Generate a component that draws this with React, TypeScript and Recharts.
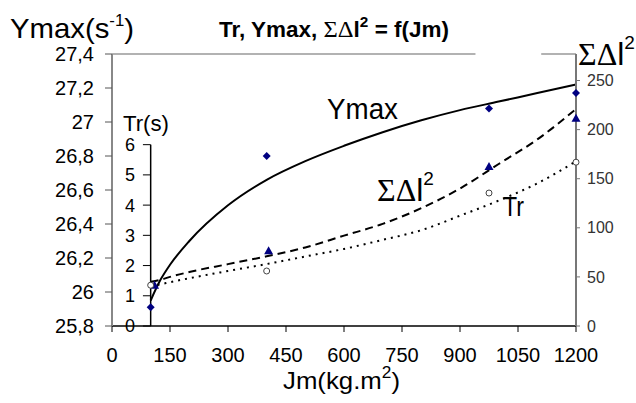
import React from 'react';
import { ComposedChart, Line, Scatter, XAxis, YAxis, ReferenceLine } from 'recharts';

const jmTicks = [0, 150, 300, 450, 600, 750, 900, 1050, 1200];
const ymaxTicks = [25.8, 26, 26.2, 26.4, 26.6, 26.8, 27, 27.2, 27.4];
const dlTicks = [0, 50, 100, 150, 200, 250];
const trTicks = [0, 1, 2, 3, 4, 5, 6];

// fitted curves
const curveJm = [100, 125, 150, 200, 300, 400, 500, 600, 700, 800, 900, 1000, 1100, 1200];
const ymaxCurve = [25.95, 26.07, 26.16, 26.3, 26.51, 26.66, 26.77, 26.86, 26.94, 27.01, 27.07, 27.12, 27.17, 27.22];
const dlCurve = [45, 47, 50, 55, 63, 71, 80, 92, 104, 120, 140, 165, 190, 221];
const trCurve = [1.32, 1.38, 1.45, 1.58, 1.82, 2.05, 2.3, 2.55, 2.85, 3.17, 3.65, 4.15, 4.72, 5.45];

// measured points
const pointJm = [100, 400, 975, 1200];
const ymaxPoints = [25.91, 26.8, 27.08, 27.17];
const dlPointJm = [110, 405, 975, 1200];
const dlPoints = [41, 76, 162, 211];
const trPoints = [1.35, 1.82, 4.4, 5.42];

const ymaxLine = curveJm.map((x, i) => ({ x, y: ymaxCurve[i] }));
const dlLine = curveJm.map((x, i) => ({ x, y: dlCurve[i] }));
const trLine = curveJm.map((x, i) => ({ x, y: trCurve[i] }));
const ymaxDots = pointJm.map((x, i) => ({ x, y: ymaxPoints[i] }));
const dlDots = dlPointJm.map((x, i) => ({ x, y: dlPoints[i] }));
const trDots = pointJm.map((x, i) => ({ x, y: trPoints[i] }));

const font = '"Liberation Sans", Arial, sans-serif';
const serif = '"Liberation Serif", "Times New Roman", serif';

const Diamond = (p: any) => {
  const { cx, cy } = p;
  return <path d={`M${cx},${cy - 4}L${cx + 4},${cy}L${cx},${cy + 4}L${cx - 4},${cy}Z`} fill="#000080" />;
};
const Triangle = (p: any) => {
  const { cx, cy } = p;
  return <path d={`M${cx},${cy - 5}L${cx + 4.5},${cy + 3}L${cx - 4.5},${cy + 3}Z`} fill="#000080" />;
};
const Ring = (p: any) => <circle cx={p.cx} cy={p.cy} r={3} fill="#fff" stroke="#444" strokeWidth={1} />;

const comma = (v: number) => String(v).replace('.', ',');

export default function App() {
  return (
    <div style={{ position: 'absolute', left: 0, top: 0, width: 636, height: 403, background: '#fff', fontFamily: font }}>
      <ComposedChart width={636} height={403} margin={{ top: 54, right: 0, bottom: 47, left: 0 }}>
        <XAxis
          dataKey="x"
          type="number"
          domain={[0, 1200]}
          ticks={jmTicks}
          height={30}
          tickSize={6}
          tickMargin={16}
          axisLine={{ stroke: '#000', strokeWidth: 1.5 }}
          tickLine={{ stroke: '#000' }}
          tick={{ fontSize: 20, fill: '#000' }}
        />
        <YAxis
          yAxisId="ymax"
          dataKey="y"
          type="number"
          domain={[25.8, 27.4]}
          ticks={ymaxTicks}
          width={112}
          tickSize={7}
          tickMargin={11}
          tickFormatter={comma}
          axisLine={{ stroke: '#888', strokeWidth: 2 }}
          tickLine={{ stroke: '#555' }}
          tick={{ fontSize: 20, fill: '#000' }}
        />
        <YAxis
          yAxisId="dl"
          dataKey="y"
          orientation="right"
          type="number"
          domain={[0, 277]}
          ticks={dlTicks}
          width={60}
          tickSize={4}
          tickMargin={7}
          axisLine={{ stroke: '#777', strokeWidth: 2 }}
          tickLine={{ stroke: '#777' }}
          tick={{ fontSize: 16, fill: '#333' }}
        />
        <YAxis yAxisId="tr" dataKey="y" type="number" orientation="right" domain={[0, 9]} width={0} hide />

        <ReferenceLine yAxisId="ymax" segment={[{ x: 0, y: 27.4 }, { x: 940, y: 27.4 }]} stroke="#999" strokeWidth={1.5} />
        <ReferenceLine yAxisId="ymax" segment={[{ x: 1110, y: 27.4 }, { x: 1200, y: 27.4 }]} stroke="#999" strokeWidth={1.5} />

        <ReferenceLine yAxisId="tr" segment={[{ x: 100, y: 0 }, { x: 100, y: 6 }]} stroke="#000" strokeWidth={1.5} />
        {trTicks.map((t) => (
          <ReferenceLine
            key={t}
            yAxisId="tr"
            segment={[{ x: 80, y: t }, { x: 100, y: t }]}
            stroke="#000"
            label={{ value: String(t), position: 'left', offset: 8, fontSize: 18, fill: '#000' }}
          />
        ))}

        <Line data={ymaxLine} yAxisId="ymax" dataKey="y" type="monotone" stroke="#000" strokeWidth={2} dot={false} isAnimationActive={false} />
        <Line data={dlLine} yAxisId="dl" dataKey="y" type="monotone" stroke="#000" strokeWidth={2} strokeDasharray="8 5" dot={false} isAnimationActive={false} />
        <Line data={trLine} yAxisId="tr" dataKey="y" type="monotone" stroke="#000" strokeWidth={2} strokeDasharray="2 5" dot={false} isAnimationActive={false} />

        <Scatter data={ymaxDots} yAxisId="ymax" dataKey="y" shape={Diamond} isAnimationActive={false} />
        <Scatter data={dlDots} yAxisId="dl" dataKey="y" shape={Triangle} isAnimationActive={false} />
        <Scatter data={trDots} yAxisId="tr" dataKey="y" shape={Ring} isAnimationActive={false} />
      </ComposedChart>

      <svg width={636} height={403} style={{ position: 'absolute', left: 0, top: 0, pointerEvents: 'none' }}>
        <text x={10} y={38} fontSize={28} fontFamily={font} fill="#000" textLength={124} lengthAdjust="spacingAndGlyphs">
          Ymax(s<tspan fontSize={16} dy={-12}>-1</tspan><tspan dy={12}>)</tspan>
        </text>
        <text x={219} y={37} fontSize={22} fontWeight="bold" fontFamily={font} fill="#000" textLength={230} lengthAdjust="spacingAndGlyphs">
          Tr, Ymax, <tspan fontFamily={serif} fontWeight="normal" fontSize={24}>ΣΔ</tspan>l<tspan fontSize={15} dy={-10}>2</tspan><tspan dy={10}> = f(Jm)</tspan>
        </text>
        <text x={578} y={65} fontSize={32} fontFamily={serif} fill="#000">
          ΣΔ<tspan fontFamily={font}>l</tspan><tspan fontFamily={font} fontSize={19} dy={-16}>2</tspan>
        </text>
        <text x={123} y={131} fontSize={22} fontFamily={font} fill="#000" textLength={46} lengthAdjust="spacingAndGlyphs">
          Tr(s)
        </text>
        <text x={327} y={119} fontSize={30} fontFamily={font} fill="#000" textLength={71} lengthAdjust="spacingAndGlyphs">
          Ymax
        </text>
        <text x={377} y={201} fontSize={32} fontFamily={serif} fill="#000">
          ΣΔ<tspan fontFamily={font}>l</tspan><tspan fontFamily={font} fontSize={19} dy={-16}>2</tspan>
        </text>
        <text x={503} y={216} fontSize={27} fontFamily={font} fill="#000" textLength={21} lengthAdjust="spacingAndGlyphs">
          Tr
        </text>
        <text x={283} y={389} fontSize={24} fontFamily={font} fill="#000" textLength={117} lengthAdjust="spacingAndGlyphs">
          Jm(kg.m<tspan fontSize={16} dy={-11}>2</tspan><tspan dy={11}>)</tspan>
        </text>
      </svg>
    </div>
  );
}
